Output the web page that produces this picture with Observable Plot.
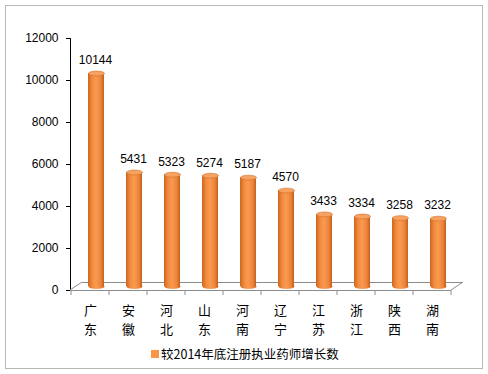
<!DOCTYPE html>
<html>
<head>
<meta charset="utf-8">
<script src="https://cdn.jsdelivr.net/npm/d3@7"></script>
<script src="https://cdn.jsdelivr.net/npm/@observablehq/plot@0.6"></script>
<style>
  html, body { margin: 0; padding: 0; background: #fff; }
  #wrap { position: relative; width: 488px; height: 374px; overflow: hidden; }
  #border { position: absolute; left: 5px; top: 5px; width: 476px; height: 362px; border: 1px solid #b8b8b8; }
  #chart { position: absolute; left: 0; top: 0; }
  #legend { position: absolute; left: 151px; top: 344px; font: 12.5px "Noto Sans CJK SC", sans-serif; color: #000; display: flex; align-items: center; white-space: nowrap; }
  #legend .sw { width: 8px; height: 8px; background: #F79646; margin-right: 2px; }
</style>
</head>
<body>
<svg width="0" height="0" style="position:absolute">
  <defs>
    <linearGradient id="cyl" x1="0" x2="1" y1="0" y2="0">
      <stop offset="0" stop-color="#c9671f"/>
      <stop offset="0.25" stop-color="#f28a3c"/>
      <stop offset="0.5" stop-color="#f99a52"/>
      <stop offset="0.8" stop-color="#ee843a"/>
      <stop offset="1" stop-color="#c0611c"/>
    </linearGradient>
  </defs>
</svg>
<div id="wrap">
  <div id="border"></div>
  <div id="chart"></div>
  <div id="legend"><span class="sw"></span><span>较2014年底注册执业药师增长数</span></div>
</div>
<script>
const categories = ["广东", "安徽", "河北", "山东", "河南", "辽宁", "江苏", "浙江", "陕西", "湖南"];
const values = [10144, 5431, 5323, 5274, 5187, 4570, 3433, 3334, 3258, 3232];
const yTicks = [0, 2000, 4000, 6000, 8000, 10000, 12000];

const data = categories.map((c, i) => ({cat: c, value: values[i]}));

const ellipse = {
  draw(ctx, size) {
    const rx = Math.sqrt(size / Math.PI), ry = rx * 0.3, k = 0.5523;
    ctx.moveTo(rx, 0);
    ctx.bezierCurveTo(rx, ry * k, rx * k, ry, 0, ry);
    ctx.bezierCurveTo(-rx * k, ry, -rx, ry * k, -rx, 0);
    ctx.bezierCurveTo(-rx, -ry * k, -rx * k, -ry, 0, -ry);
    ctx.bezierCurveTo(rx * k, -ry, rx, -ry * k, rx, 0);
    ctx.closePath();
  }
};

const DX = 6, DY = -4;
const chart = Plot.plot({
  width: 488,
  height: 340,
  marginLeft: 70,
  marginRight: 37,
  marginTop: 38,
  marginBottom: 50,
  style: {background: "transparent", fontFamily: "'Liberation Sans', Arial, sans-serif", fontSize: "12px", color: "#000"},
  x: {domain: categories, padding: 0, axis: null},
  y: {domain: [0, 12000], ticks: yTicks, tickSize: 4, tickPadding: 8, tickFormat: d => String(d), line: true, label: null},
  marks: [
    Plot.ruleY([0], {stroke: "#8c8c8c"}),
    Plot.ruleY([0], {stroke: "#8c8c8c", dx: 12, dy: -8}),
    Plot.dot(data, {x: "cat", y: 0, symbol: ellipse, r: 8, fill: "url(#cyl)", stroke: "none", dx: DX, dy: DY}),
    Plot.barY(data, {x: "cat", y: "value", fill: "url(#cyl)", insetLeft: 11, insetRight: 11, dx: DX, dy: DY}),
    Plot.dot(data, {x: "cat", y: "value", symbol: ellipse, r: 8, fill: "#f6a263", stroke: "#cf6e26", strokeWidth: 0.6, dx: DX, dy: DY}),
    Plot.text(data, {x: "cat", y: "value", text: d => String(d.value), dx: 5, dy: -17, fontSize: 12, fill: "#000"}),
    Plot.text(categories, {x: d => d, y: 0, text: d => d[0], dy: 20, fontSize: 13, fontFamily: "'Noto Sans CJK SC', sans-serif", fill: "#000"}),
    Plot.text(categories, {x: d => d, y: 0, text: d => d[1], dy: 39, fontSize: 13, fontFamily: "'Noto Sans CJK SC', sans-serif", fill: "#000"})
  ]
});
document.getElementById("chart").appendChild(chart);

// floor diagonals and category-edge ticks from Plot's own scales
const xs = chart.scale("x"), ys = chart.scale("y");
const y0 = ys.apply(0);
const x0 = xs.range[0], x1 = xs.range[1];
const svg = d3.select(chart);
const g = svg.append("g").attr("stroke", "#8c8c8c").attr("stroke-width", 1).attr("fill", "none");
g.append("line").attr("x1", x0).attr("y1", y0).attr("x2", x0 + 12).attr("y2", y0 - 8);
g.append("line").attr("x1", x1).attr("y1", y0).attr("x2", x1 + 12).attr("y2", y0 - 8);
const edges = categories.map(c => xs.apply(c)).concat([x1]);
edges.forEach(e => g.append("line").attr("x1", e).attr("x2", e).attr("y1", y0).attr("y2", y0 + 5));
</script>
</body>
</html>
